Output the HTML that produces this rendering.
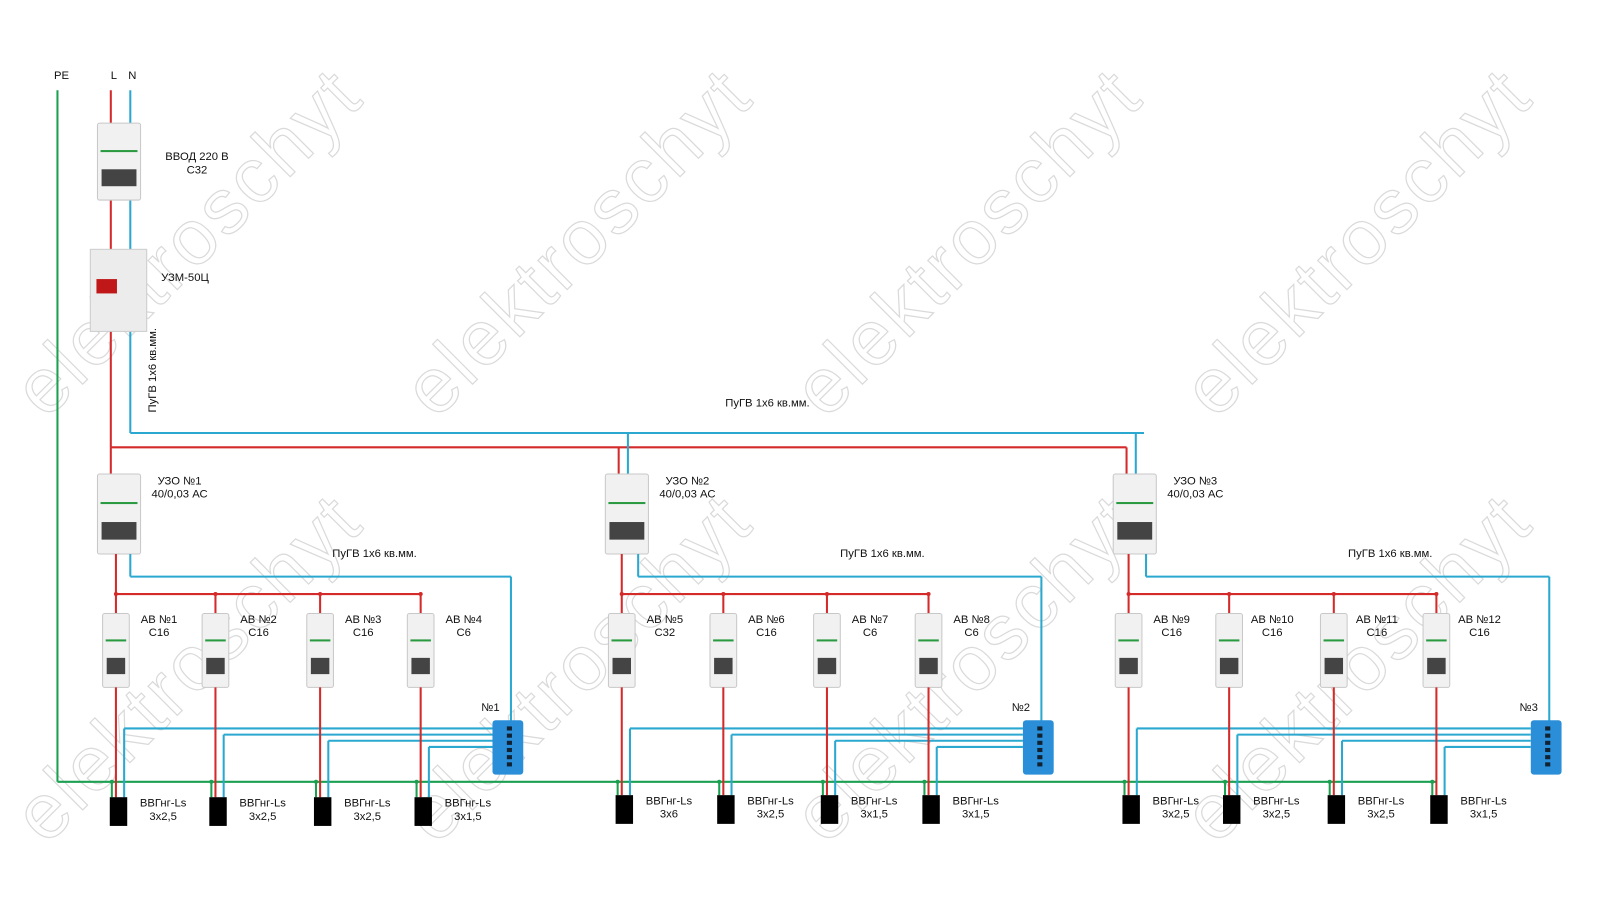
<!DOCTYPE html>
<html><head><meta charset="utf-8"><style>
html,body{margin:0;padding:0;background:#fff;width:1600px;height:919px;overflow:hidden}
svg text{font-family:"Liberation Sans",sans-serif;font-size:11px;fill:#111}
.wm{font-size:76px;fill:none;stroke:#dadada;stroke-width:1.2;letter-spacing:3px}
</style></head><body>
<svg width="1600" height="919" xmlns="http://www.w3.org/2000/svg"><g id="s" transform="scale(1.026)"></g></svg>
<script>
const R='#d42a2a',B='#2aa8d0',G='#1aa050';
let h='';
[[45,410],[425,410],[805,410],[1185,410],[45,825],[425,825],[805,825],[1185,825]].forEach(p=>{
h+=`<text class="wm" transform="translate(${p[0]},${p[1]}) rotate(-45)">elektroschyt</text>`;});
const L=(x1,y1,x2,y2,c,w)=>h+=`<line x1="${x1}" y1="${y1}" x2="${x2}" y2="${y2}" stroke="${c}" stroke-width="${w||2}"/>`;
const T=(x,y,t,a)=>h+=`<text x="${x}" y="${y}" text-anchor="${a||'middle'}">${t}</text>`;
const Tv=(x,y,t)=>h+=`<text transform="translate(${x},${y}) rotate(-90)">${t}</text>`;
L(56,88,56,762,G);L(108,88,108,436,R);L(127,88,127,422,B);
L(127,422,1115,422,B);L(108,436,1098,436,R);
L(56,762,1400,762,G);
T(60,77,'PE');T(111,77,'L');T(129,77,'N');
function dev(x,y,w,hh,handle){
 h+=`<rect x="${x}" y="${y}" width="${w}" height="${hh}" fill="#f1f1f1" stroke="#c8c8c8" rx="2"/>`;
 h+=`<rect x="${x+3}" y="${y+hh*0.35}" width="${w-6}" height="2" fill="#2a9a40"/>`;
 if(handle) h+=`<rect x="${x+4}" y="${y+hh*0.6}" width="${w-8}" height="${hh*0.22}" fill="#444"/>`;
}
dev(95,120,42,75,1);T(192,156,'ВВОД 220 В');T(192,169,'С32');
h+=`<rect x="88" y="243" width="55" height="80" fill="#ececec" stroke="#ccc"/><rect x="94" y="272" width="20" height="14" fill="#c01818"/>`;
T(157,274,'УЗМ-50Ц','start');Tv(152,402,'ПуГВ 1х6 кв.мм.');
T(748,396,'ПуГВ 1х6 кв.мм.');
const groups=[
 {u:108,ux:95,bx:[113,210,312,410],box:480,lab:'№1',ab:[['АВ №1','С16'],['АВ №2','С16'],['АВ №3','С16'],['АВ №4','С6']],cb:[['3х2,5'],['3х2,5'],['3х2,5'],['3х1,5']],cy:777},
 {u:603,ux:590,bx:[606,705,806,905],box:997,lab:'№2',ab:[['АВ №5','С32'],['АВ №6','С16'],['АВ №7','С6'],['АВ №8','С6']],cb:[['3х6'],['3х2,5'],['3х1,5'],['3х1,5']],cy:775},
 {u:1098,ux:1085,bx:[1100,1198,1300,1400],box:1492,lab:'№3',ab:[['АВ №9','С16'],['АВ №10','С16'],['АВ №11','С16'],['АВ №12','С16']],cb:[['3х2,5'],['3х2,5'],['3х2,5'],['3х1,5']],cy:775}];
groups.forEach((g,i)=>{
 const bx=g.ux+32;
 L(g.u,436,g.u,465,R);if(i) L(bx-10,422,bx-10,465,B);
 dev(g.ux,462,42,78,1);
 T(g.ux+80,472,'УЗО №'+(i+1));T(g.ux+80,485,'40/0,03 АС');
 L(g.bx[0],540,g.bx[0],579,R);L(g.bx[0],579,g.bx[3],579,R);
 L(bx,540,bx,562,B);L(bx,562,g.box+18,562,B);L(g.box+18,562,g.box+18,705,B);
 T(g.ux+270,543,'ПуГВ 1х6 кв.мм.');
 g.bx.forEach((x,k)=>{
  h+=`<circle cx="${x}" cy="579" r="2" fill="${R}"/>`;
  L(x,579,x,600,R);dev(x-13,598,26,72,1);
  T(x+42,607,g.ab[k][0]);T(x+42,620,g.ab[k][1]);
  L(x,670,x,g.cy,R);
  const by=710+k*6;L(x+8,by,g.box,by,B);L(x+8,by,x+8,g.cy,B);
  L(x-4,762,x-4,g.cy,G);h+=`<circle cx="${x-4}" cy="762" r="2" fill="${G}"/>`;
  h+=`<rect x="${x-6}" y="${g.cy}" width="17" height="28" fill="#000"/>`;
  T(x+46,g.cy+9,'ВВГнг-Ls');T(x+46,g.cy+22,g.cb[k][0]);
 });
 h+=`<rect x="${g.box}" y="702" width="30" height="53" rx="3" fill="#2a8fd8"/>`;
 for(let j=0;j<6;j++)h+=`<rect x="${g.box+14}" y="${708+j*7}" width="5" height="4" fill="#123"/>`;
 T(g.box-2,693,g.lab);
});
document.getElementById('s').innerHTML=h;
</script>
</body></html>
